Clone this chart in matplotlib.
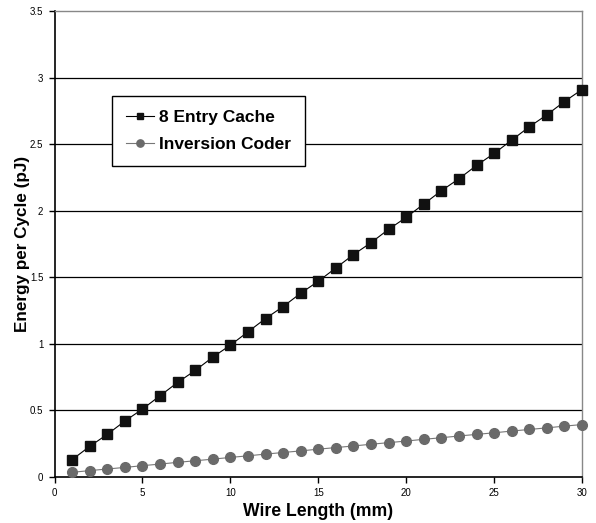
import matplotlib
matplotlib.use("Agg")
import matplotlib.pyplot as plt

plt.rcParams['font.family'] = ['Liberation Sans', 'DejaVu Sans']

wire_length = list(range(1, 31))
entry_cache = [0.13, 0.23, 0.32, 0.42, 0.51, 0.61, 0.71, 0.80, 0.90, 0.99,
               1.09, 1.19, 1.28, 1.38, 1.47, 1.57, 1.67, 1.76, 1.86, 1.95,
               2.05, 2.15, 2.24, 2.34, 2.43, 2.53, 2.63, 2.72, 2.82, 2.91]
inversion_coder = [0.035, 0.048, 0.060, 0.072, 0.085, 0.097, 0.110, 0.122, 0.134, 0.147,
                   0.159, 0.172, 0.184, 0.196, 0.209, 0.221, 0.233, 0.246, 0.258, 0.270,
                   0.283, 0.295, 0.308, 0.320, 0.332, 0.345, 0.357, 0.369, 0.382, 0.394]
x_ticks = [0, 5, 10, 15, 20, 25, 30]
y_ticks = [0, 0.5, 1, 1.5, 2, 2.5, 3, 3.5]
y_tick_labels = ['0', '0.5', '1', '1.5', '2', '2.5', '3', '3.5']

W, H = 596, 523
fig = plt.figure(figsize=(W / 100, H / 100), dpi=100)
ax = fig.add_axes([54.5 / W, 1 - 477 / H, (582 - 54.5) / W, (477 - 11) / H])

for y in y_ticks[1:-1]:
    ax.axhline(y, color='black', linewidth=0.9, zorder=1)

ax.plot(wire_length, entry_cache, color='black', linewidth=0.8, marker='s',
        markersize=6.5, markerfacecolor='#111111', markeredgecolor='#111111',
        label='8 Entry Cache', zorder=3, clip_on=False)
ax.plot(wire_length, inversion_coder, color='#777777', linewidth=0.8, marker='o',
        markersize=7, markerfacecolor='#6a6a6a', markeredgecolor='#6a6a6a',
        label='Inversion Coder', zorder=3, clip_on=False)

ax.set_xlim(0, 30)
ax.set_ylim(0, 3.5)
ax.set_xticks(x_ticks)
ax.set_yticks(y_ticks)
ax.set_yticklabels(y_tick_labels)
ax.tick_params(axis='both', direction='out', length=4, width=1, labelsize=7, pad=4)

ax.spines['left'].set_color('black')
ax.spines['bottom'].set_color('black')
ax.spines['left'].set_linewidth(1.2)
ax.spines['bottom'].set_linewidth(1.2)
ax.spines['top'].set_color('#888888')
ax.spines['right'].set_color('#888888')
ax.spines['top'].set_linewidth(1.0)
ax.spines['right'].set_linewidth(1.0)

ax.set_xlabel('Wire Length (mm)', fontsize=12.7, fontweight='bold')
ax.set_ylabel('Energy per Cycle (pJ)', fontsize=12.3, fontweight='bold')
ax.yaxis.set_label_coords((22 - 54.5) / 527.5, 0.5)
ax.xaxis.set_label_coords(0.5, (477 - 512) / 466)
ax.xaxis.label.set_verticalalignment('center')
ax.yaxis.label.set_verticalalignment('center')

leg = ax.legend(loc='upper left', bbox_to_anchor=(112 / W, 1 - 96 / H),
                bbox_transform=fig.transFigure, prop={'weight': 'bold', 'size': 12.5},
                frameon=True, fancybox=False, edgecolor='black', framealpha=1,
                handlelength=1.6, handletextpad=0.3, borderpad=0.8, labelspacing=0.7,
                markerscale=0.75, borderaxespad=0)
leg.get_frame().set_linewidth(1.0)
leg.set_zorder(5)

fig.savefig('out.png', dpi=100, facecolor='white')
